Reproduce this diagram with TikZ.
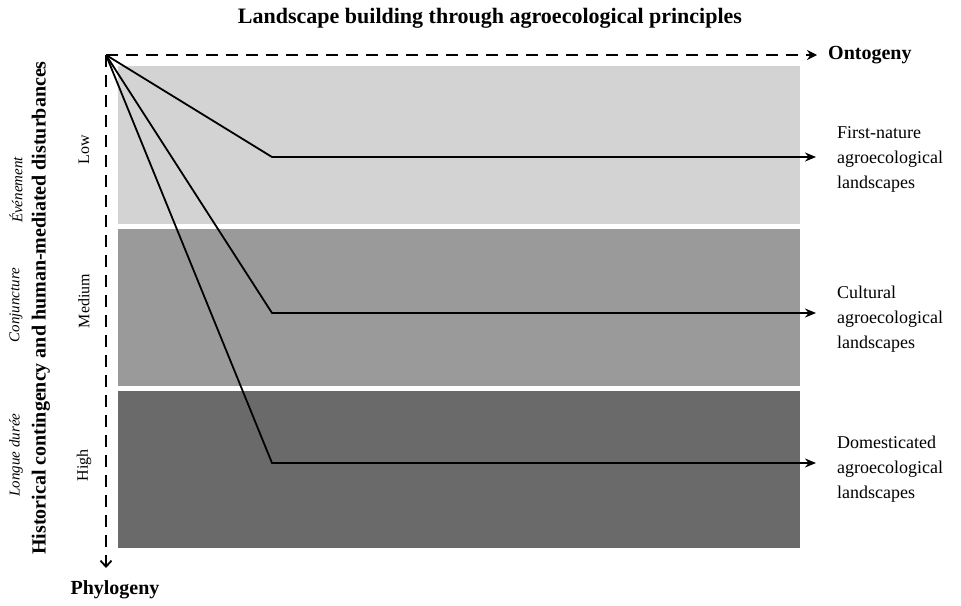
\documentclass[tikz,border=0pt]{standalone}
\usepackage{fontspec}
\setmainfont{Liberation Serif}
\usetikzlibrary{positioning,arrows.meta}
\definecolor{lowgray}{RGB}{211,211,211}
\definecolor{midgray}{RGB}{154,154,154}
\definecolor{highgray}{RGB}{106,106,106}

\begin{document}
\begin{tikzpicture}[x=1pt,y=-1pt,
  axis/.style={line width=1.8pt,dash pattern=on 12pt off 8pt},
  path/.style={line width=1.8pt,-{Stealth[length=11pt,width=9pt]}},
  outcome/.style={anchor=west,align=left,inner xsep=21pt,inner ysep=2pt,font=\fontsize{18}{25}\selectfont},
  side/.style={rotate=90,font=\fontsize{16}{19}\selectfont},
  axislabel/.style={font=\bfseries\fontsize{20}{24}\selectfont}
]
\useasboundingbox (0,0) rectangle (961,605);

% the bands
\fill[lowgray] (118,66) rectangle (800,224);
\fill[midgray] (118,229) rectangle (800,386);
\fill[highgray] (118,391) rectangle (800,548);

% the axes
\coordinate (o) at (106,55);
\coordinate (down) at (106,568);
\node[axislabel,anchor=west,inner xsep=11pt,inner ysep=2pt] (onto) at (817,55) {Ontogeny};
\node[axislabel] (phylo) at (115,590) {Phylogeny};
\draw[axis,-{Stealth[length=10pt,width=10pt]}] (o) -- (onto.west);
\draw[axis,-{Straight Barb[length=6pt,width=11pt]}] (o) -- (down);

% the title
\node[font=\bfseries\fontsize{22}{26}\selectfont] (title) at (490,18)
  {Landscape building through agroecological principles};

% the left labels
\node[side,font=\bfseries\fontsize{20}{24}\selectfont] (hist) at (41,308)
  {Historical contingency and human-mediated disturbances};
\node[side,font=\itshape\fontsize{15}{19}\selectfont] (ev) at (16,190) {Événement};
\node[side,font=\itshape\fontsize{15}{19}\selectfont] (conj) at (16,305) {Conjuncture};
\node[side,font=\itshape\fontsize{15}{19}\selectfont] (long) at (16,455) {Longue durée};
\node[side] (low) at (84,150) {Low};
\node[side] (med) at (84,301) {Medium};
\node[side] (high) at (84,465) {High};

% the outcomes
\node[outcome] (l1) at (816,159) {First-nature\\agroecological\\landscapes};
\node[outcome] (l2) at (816,319) {Cultural\\agroecological\\landscapes};
\node[outcome] (l3) at (816,469) {Domesticated\\agroecological\\landscapes};

% the paths
\coordinate (b1) at (272,157);
\coordinate (b2) at (272,313);
\coordinate (b3) at (272,463);
\draw[path] (o) -- (b1) -- (b1 -| l1.west);
\draw[path] (o) -- (b2) -- (b2 -| l2.west);
\draw[path] (o) -- (b3) -- (b3 -| l3.west);
\end{tikzpicture}
\end{document}
